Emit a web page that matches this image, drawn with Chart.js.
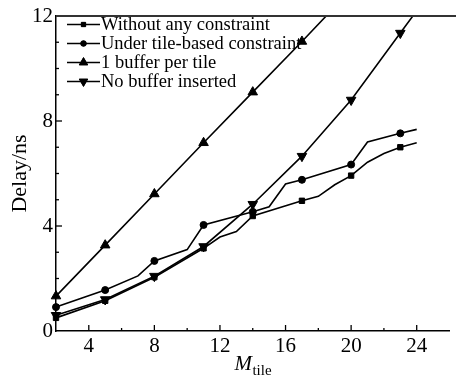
<!DOCTYPE html>
<html>
<head>
<meta charset="utf-8">
<script src="https://cdn.jsdelivr.net/npm/chart.js@4/dist/chart.umd.min.js"></script>
<style>
  html, body { margin: 0; padding: 0; background: #fff; }
  #wrap { width: 456px; height: 378px; }
</style>
</head>
<body>
<div id="wrap"><canvas id="delayChart" width="456" height="378"></canvas></div>
<script>
// Delay vs M_tile
const seriesNames = ['Without any constraint', 'Under tile-based constraint', '1 buffer per tile', 'No buffer inserted'];
const markerX = [2, 5, 8, 11, 14, 17, 20, 23];

const noConstraintX = [2, 5, 8, 11, 12, 13, 14, 17, 18, 19, 20, 21, 22, 23, 24];
const noConstraintY = [0.5, 1.15, 2.05, 3.15, 3.58, 3.79, 4.38, 4.96, 5.13, 5.57, 5.92, 6.43, 6.76, 7.0, 7.17];

const tileBasedX = [2, 5, 7, 8, 10, 11, 14, 15, 16, 17, 20, 21, 23, 24];
const tileBasedY = [0.91, 1.56, 2.1, 2.67, 3.1, 4.04, 4.54, 4.73, 5.6, 5.76, 6.34, 7.2, 7.53, 7.68];

const oneBufferX = [2, 5, 8, 11, 14, 17, 20];
const oneBufferY = [1.33, 3.27, 5.22, 7.17, 9.1, 11.03, 13.0];

const noBufferX = [2, 5, 8, 11, 14, 17, 20, 23, 24];
const noBufferY = [0.6, 1.2, 2.09, 3.22, 4.83, 6.66, 8.8, 11.35, 12.2];

const xTicks = [4, 8, 12, 16, 20, 24];
const yTicks = [0, 4, 8, 12];

const SERIF = '"Liberation Serif", "DejaVu Serif", serif';

function toPoints(xs, ys) {
    return xs.map((x, i) => ({ x: x, y: ys[i] }));
}

const markers = [
    { style: 'rect', radius: 3.8, rotation: 0 },
    { style: 'circle', radius: 3.5, rotation: 0 },
    { style: 'triangle', radius: 5.5, rotation: 0 },
    { style: 'triangle', radius: 5.5, rotation: 180 }
];

function makeDataset(i, xs, ys) {
    const m = markers[i];
    return {
        label: seriesNames[i],
        data: toPoints(xs, ys),
        borderColor: '#000',
        backgroundColor: '#000',
        borderWidth: 1.6,
        pointStyle: m.style,
        pointRotation: m.rotation,
        pointRadius: (ctx) => (ctx.raw && markerX.includes(ctx.raw.x)) ? m.radius : 0,
        pointBorderWidth: 1,
        tension: 0,
        clip: { left: 10, right: 10, top: 0, bottom: 10 }
    };
}

// Inside ticks, top border, legend and axis titles
const decorations = {
    id: 'decorations',
    afterDraw(chart) {
        const ctx = chart.ctx;
        const area = chart.chartArea;
        const xs = chart.scales.x;
        const ys = chart.scales.y;
        ctx.save();
        ctx.strokeStyle = '#000';
        ctx.lineWidth = 1.3;

        // ticks pointing into the plot
        xs.ticks.forEach(t => {
            const px = xs.getPixelForValue(t.value);
            if (px <= area.left + 1 || px >= area.right - 1) return;
            const len = (t.value % 4 === 0) ? 6 : 3;
            ctx.beginPath();
            ctx.moveTo(px, area.bottom);
            ctx.lineTo(px, area.bottom - len);
            ctx.stroke();
        });
        ys.ticks.forEach(t => {
            const py = ys.getPixelForValue(t.value);
            if (py >= area.bottom - 1 || py <= area.top + 1) return;
            const len = (t.value % 4 === 0) ? 6 : 3;
            ctx.beginPath();
            ctx.moveTo(area.left, py);
            ctx.lineTo(area.left + len, py);
            ctx.stroke();
        });

        // top border
        ctx.strokeStyle = '#333';
        ctx.lineWidth = 2;
        ctx.beginPath();
        ctx.moveTo(area.left, area.top);
        ctx.lineTo(chart.width, area.top);
        ctx.stroke();

        // legend
        ctx.fillStyle = '#000';
        ctx.strokeStyle = '#000';
        ctx.font = '18.5px ' + SERIF;
        ctx.textBaseline = 'middle';
        ctx.textAlign = 'left';
        seriesNames.forEach((name, i) => {
            const y = 24.5 + i * 19;
            ctx.lineWidth = 1.6;
            ctx.beginPath();
            ctx.moveTo(67, y);
            ctx.lineTo(100, y);
            ctx.stroke();
            ctx.lineWidth = 1;
            const m = markers[i];
            const r = (i < 2) ? m.radius * 0.8 : m.radius * 0.9;
            Chart.helpers.drawPoint(ctx, { pointStyle: m.style, rotation: m.rotation, radius: r, borderWidth: 1 }, 83.5, y);
            ctx.fill();
            ctx.fillText(name, 101, y + 1);
        });

        // y axis title
        ctx.save();
        ctx.translate(20, (area.top + area.bottom) / 2);
        ctx.rotate(-Math.PI / 2);
        ctx.textAlign = 'center';
        ctx.font = '22px ' + SERIF;
        ctx.fillText('Delay/ns', 0, 0);
        ctx.restore();

        // x axis title: M with subscript "tile"
        ctx.textBaseline = 'alphabetic';
        ctx.font = 'italic 21px ' + SERIF;
        const mW = ctx.measureText('M').width;
        ctx.font = '15px ' + SERIF;
        const subW = ctx.measureText('tile').width;
        const startX = (area.left + area.right) / 2 - (mW + subW) / 2;
        ctx.font = 'italic 21px ' + SERIF;
        ctx.fillText('M', startX, 370);
        ctx.font = '15px ' + SERIF;
        ctx.fillText('tile', startX + mW + 0.5, 375);

        ctx.restore();
    }
};

new Chart(document.getElementById('delayChart'), {
    type: 'line',
    data: {
        datasets: [
            makeDataset(0, noConstraintX, noConstraintY),
            makeDataset(1, tileBasedX, tileBasedY),
            makeDataset(2, oneBufferX, oneBufferY),
            makeDataset(3, noBufferX, noBufferY)
        ]
    },
    options: {
        responsive: false,
        animation: false,
        devicePixelRatio: 1,
        layout: { padding: { top: 16, left: 0, right: 0, bottom: 0 } },
        plugins: {
            legend: { display: false },
            tooltip: { enabled: false }
        },
        scales: {
            x: {
                type: 'linear',
                min: 2,
                max: 26,
                ticks: {
                    stepSize: 2,
                    autoSkip: false,
                    maxRotation: 0,
                    padding: 3,
                    color: '#000',
                    font: { family: SERIF, size: 21 },
                    callback: (v) => xTicks.includes(v) ? String(v) : ''
                },
                grid: { display: true, drawOnChartArea: false, drawTicks: false },
                border: { display: true, color: '#000', width: 1.5 },
                afterFit: (scale) => { scale.height = 47; }
            },
            y: {
                type: 'linear',
                min: 0,
                max: 12,
                ticks: {
                    stepSize: 1,
                    autoSkip: false,
                    padding: 3,
                    color: '#000',
                    font: { family: SERIF, size: 21 },
                    callback: (v) => yTicks.includes(v) ? String(v) : ''
                },
                grid: { display: true, drawOnChartArea: false, drawTicks: false },
                border: { display: true, color: '#000', width: 1.5 },
                afterFit: (scale) => { scale.width = 56; }
            }
        }
    },
    plugins: [decorations]
});
</script>
</body>
</html>
